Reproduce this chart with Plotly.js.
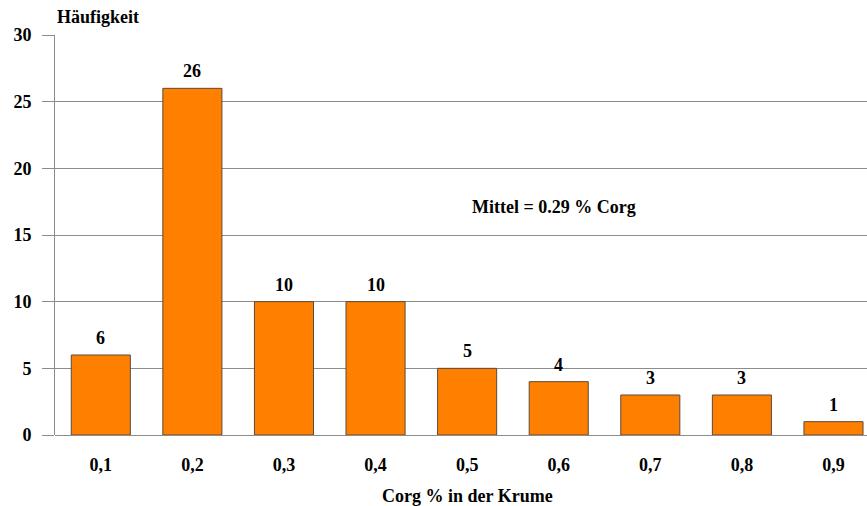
<!DOCTYPE html>
<html>
<head>
<meta charset="utf-8">
<script src="https://cdn.plot.ly/plotly-3.0.1.min.js"></script>
<style>
body{margin:0;}
#chart text{font-family:'Liberation Serif' !important;}
</style>
</head>
<body>
<div id="chart"></div>
<script>
const categories = ["0,1","0,2","0,3","0,4","0,5","0,6","0,7","0,8","0,9"];
const counts = [6, 26, 10, 10, 5, 4, 3, 3, 1];
const yTicks = [0, 5, 10, 15, 20, 25, 30];
const meanText = "Mittel = 0.29 % Corg";

const FAM = "Liberation Serif";
const bf = (s) => ({family: FAM, size: s, color: "#000", weight: "bold"});

const valueLabels = categories.map((c, i) => ({
  text: String(counts[i]), xref: "x", yref: "y", x: c, y: counts[i],
  xanchor: "center", yanchor: "bottom", yshift: 5, showarrow: false, font: bf(18)
}));

Plotly.newPlot("chart", [{
  type: "bar",
  x: categories,
  y: counts,
  marker: {color: "#FF8000", line: {color: "#5a4a3a", width: 1}},
  hoverinfo: "none"
}], {
  width: 867, height: 506,
  margin: {l: 55, r: 0, t: 35, b: 71},
  paper_bgcolor: "#fff", plot_bgcolor: "#fff",
  bargap: 0.355,
  showlegend: false,
  font: {family: FAM, size: 18, color: "#000", weight: "bold"},
  xaxis: {
    type: "category",
    range: [-0.5, 8.366],
    showgrid: false, zeroline: false,
    showline: false,
    ticks: "",
    ticklabelstandoff: 17,
    tickfont: bf(18)
  },
  yaxis: {
    range: [0, 30],
    tickvals: yTicks,
    showgrid: true, gridcolor: "#8c8c8c", gridwidth: 1,
    zeroline: true, zerolinecolor: "#8c8c8c", zerolinewidth: 1,
    showline: true, linecolor: "#8c8c8c", linewidth: 1,
    ticks: "outside", ticklen: 12, tickcolor: "#8c8c8c",
    ticklabelstandoff: 7,
    tickfont: bf(18)
  },
  annotations: valueLabels.concat([
    {text: "Häufigkeit", xref: "paper", yref: "paper", x: 0, y: 1, xanchor: "left", yanchor: "bottom", yshift: 6, showarrow: false,
     font: bf(18)},
    {text: meanText, xref: "x", yref: "y", x: 4.95, y: 17.1, xanchor: "center", yanchor: "middle", showarrow: false,
     font: bf(18)},
    {text: "Corg % in der Krume", xref: "x", yref: "paper", x: 4, y: 0, xanchor: "center", yanchor: "top", yshift: -49, showarrow: false,
     font: bf(18)}
  ])
}, {staticPlot: true});
</script>
</body>
</html>
